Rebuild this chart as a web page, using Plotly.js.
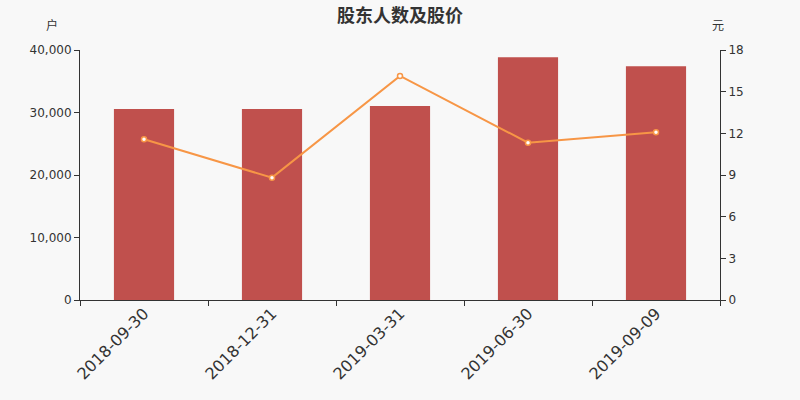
<!DOCTYPE html>
<html>
<head>
<meta charset="utf-8">
<script src="https://cdn.plot.ly/plotly-3.0.1.min.js"></script>
<style>
  html, body { margin: 0; padding: 0; background: #f8f8f8; }
  #chart { width: 800px; height: 400px; }
</style>
</head>
<body>
<div id="chart"></div>
<script>
// 报告期
const dates = ['2018-09-30', '2018-12-31', '2019-03-31', '2019-06-30', '2019-09-09'];
// 股东人数 (户)
const holders = [30560, 30560, 31040, 38830, 37390];
// 股价 (元)
const prices = [11.57, 8.81, 16.13, 11.33, 12.07];

const axisColor = '#333333';
const textColor = '#333333';
const baseFont = 'DejaVu Sans, Noto Sans CJK SC, sans-serif';
const cjkFont = 'Noto Sans CJK SC, sans-serif';

const data = [
    {
        x: dates,
        y: holders,
        type: 'bar',
        name: '股东人数',
        marker: { color: '#c0504d' },
        hoverinfo: 'x+y',
    },
    {
        x: dates,
        y: prices,
        yaxis: 'y2',
        type: 'scatter',
        mode: 'lines+markers',
        name: '股价',
        line: { color: '#f79646', width: 2 },
        marker: { color: '#ffffff', size: 5, line: { color: '#f79646', width: 1.5 } },
    }
];

const layout = {
    width: 800,
    height: 400,
    paper_bgcolor: '#f8f8f8',
    plot_bgcolor: '#f8f8f8',
    showlegend: false,
    bargap: 0.53,
    margin: { t: 50, r: 80, b: 100, l: 80 },
    font: { family: baseFont, color: textColor, size: 12 },
    title: {
        text: '<b>股东人数及股价</b>',
        x: 0.5,
        xanchor: 'center',
        yref: 'container',
        y: 0.962,
        yanchor: 'middle',
        font: { family: cjkFont, size: 18, color: textColor },
    },
    xaxis: {
        type: 'category',
        showgrid: false,
        showline: true,
        linecolor: axisColor,
        linewidth: 1,
        ticks: 'outside',
        tickson: 'boundaries',
        ticklen: 5,
        tickcolor: axisColor,
        tickangle: -45,
        ticklabelstandoff: -3,
        tickfont: { size: 16, color: textColor },
        zeroline: false,
    },
    yaxis: {
        range: [0, 40000],
        tickvals: [0, 10000, 20000, 30000, 40000],
        tickformat: ',d',
        showgrid: false,
        showline: true,
        linecolor: axisColor,
        ticks: 'outside',
        ticklen: 5,
        tickcolor: axisColor,
        zeroline: false,
        tickfont: { size: 12, color: textColor },
    },
    yaxis2: {
        overlaying: 'y',
        side: 'right',
        range: [0, 18],
        tickvals: [0, 3, 6, 9, 12, 15, 18],
        showgrid: false,
        showline: true,
        linecolor: axisColor,
        ticks: 'outside',
        ticklen: 5,
        tickcolor: axisColor,
        zeroline: false,
        tickfont: { size: 12, color: textColor },
    },
    annotations: [
        {
            text: '户', xref: 'paper', yref: 'paper', x: -0.044, y: 1.06,
            xanchor: 'center', yanchor: 'bottom', showarrow: false,
            font: { family: cjkFont, size: 12, color: textColor },
        },
        {
            text: '元', xref: 'paper', yref: 'paper', x: 0.997, y: 1.06,
            xanchor: 'center', yanchor: 'bottom', showarrow: false,
            font: { family: cjkFont, size: 12, color: textColor },
        }
    ],
};

Plotly.newPlot('chart', data, layout, { displayModeBar: false, responsive: false });
</script>
</body>
</html>
